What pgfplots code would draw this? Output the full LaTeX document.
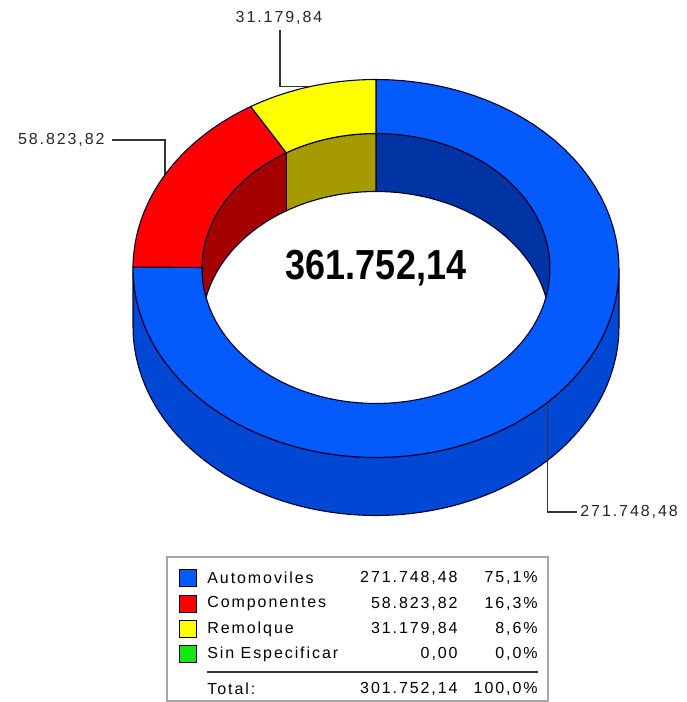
\documentclass[border=0pt]{standalone}
\usepackage{fontspec}
\setmainfont{Liberation Sans}
\newfontfamily\lblfont[LetterSpace=12]{Liberation Sans}
\usepackage{pgfplots}
\usepackage{pgfplotstable}
\pgfplotsset{compat=1.18}

\definecolor{topblue}{RGB}{5,90,252}
\definecolor{sideblue}{RGB}{0,72,212}
\definecolor{innerblue}{RGB}{0,52,165}
\definecolor{topred}{RGB}{255,0,0}
\definecolor{innerred}{RGB}{165,0,0}
\definecolor{topyellow}{RGB}{255,255,0}
\definecolor{inneryellow}{RGB}{165,155,0}
\definecolor{topgreen}{RGB}{20,230,20}
\definecolor{edge}{RGB}{0,0,45}

\pgfplotstableread{
name value
Automoviles 271748.48
Componentes 58823.82
Remolque 31179.84
SinEspecificar 0.00
}\donutdata

\pgfplotstablegetelem{0}{value}\of\donutdata \let\vA\pgfplotsretval
\pgfplotstablegetelem{1}{value}\of\donutdata \let\vC\pgfplotsretval
\pgfplotstablegetelem{2}{value}\of\donutdata \let\vR\pgfplotsretval
\pgfplotstablegetelem{3}{value}\of\donutdata \let\vS\pgfplotsretval

% geometry (pixel units)
\def\cx{376}
\def\cy{433.5}
\def\Rx{243}
\def\Ry{189}
\def\rx{174}
\def\ry{135}
\def\dd{58}

\edef\vT{\fpeval{\vA+\vC+\vR+\vS}}
\edef\aB{\fpeval{round(90-360*\vA/\vT,4)}}
\edef\aC{\fpeval{round(\aB-360*\vC/\vT,4)}}
\edef\aY{\fpeval{round(\aC-360*\vR/\vT,4)}}
\edef\aBp{\fpeval{\aB+360}}
\edef\aCp{\fpeval{\aC+360}}
\edef\aYp{\fpeval{\aY+360}}
\edef\mB{\fpeval{(90+\aB)/2}}
\edef\mC{\fpeval{(\aB+\aC)/2}}
\edef\mY{\fpeval{(\aC+\aY)/2}}
\edef\bX{\fpeval{round(\cx+\Rx*cosd(\mB),3)}}
\edef\bY{\fpeval{round(\cy+\Ry*sind(\mB),3)}}
\edef\cX{\fpeval{round(\cx+\Rx*cosd(\mC),3)}}
\edef\cY{\fpeval{round(\cy+\Ry*sind(\mC),3)}}
\edef\yX{\fpeval{round(\cx+\Rx*cosd(\mY),3)}}
\edef\yY{\fpeval{round(\cy+\Ry*sind(\mY),3)}}

% closed patch: arc 1 (#4,#5,offset #6) from #2 to #3 (t=0..80), then arc 2 (#7,#8,offset #9) back from #3 to #2 (t=100..180)
\newcommand{\patch}[9]{%
\addplot[#1, samples at={0,1,...,80,100,101,...,180}, variable=\t]
 ({\cx + ifthenelse(\t<90,#4,#7)*cos(ifthenelse(\t<90,#2+(#3-(#2))*\t/80,#3-(#3-(#2))*(\t-100)/80))},
  {\cy + ifthenelse(\t<90,#6,#9) + ifthenelse(\t<90,#5,#8)*sin(ifthenelse(\t<90,#2+(#3-(#2))*\t/80,#3-(#3-(#2))*(\t-100)/80))}) -- cycle;
}
\newcommand{\lf}{\lblfont\fontsize{8}{9}\selectfont}
\newcommand{\legrow}[5]{%
  \node[draw=black, fill=#2, minimum size=8.5pt, inner sep=0, line width=0.6pt] at (axis cs:188,#1) {};
  \node[anchor=west, inner sep=0, font=\lf] at (axis cs:207,#1) {#3};
  \node[anchor=east, inner sep=0, font=\lf] at (axis cs:458,#1) {#4};
  \node[anchor=east, inner sep=0, font=\lf] at (axis cs:538,#1) {#5};
}

\begin{document}
\begin{tikzpicture}
\begin{axis}[
  x=0.5pt, y=0.5pt,
  xmin=0, xmax=686, ymin=0, ymax=702,
  hide axis, clip=false, scale only axis, no markers,
]
\addplot[draw=none] coordinates {(0,0) (686,702)};

% outer side wall (front half)
\patch{fill=sideblue,draw=edge,line width=0.55pt}{-180}{0}{\Rx}{\Ry}{0}{\Rx}{\Ry}{-\dd}
% inner walls (back half)
\patch{fill=innerblue,draw=edge,line width=0.55pt}{0}{90}{\rx}{\ry}{0}{\rx}{\ry}{-\dd}
\patch{fill=inneryellow,draw=edge,line width=0.55pt}{\aYp}{\aCp}{\rx}{\ry}{0}{\rx}{\ry}{-\dd}
\patch{fill=innerred,draw=edge,line width=0.55pt}{\aCp}{\aBp}{\rx}{\ry}{0}{\rx}{\ry}{-\dd}
\patch{fill=innerblue,draw=edge,line width=0.55pt}{\aBp}{180}{\rx}{\ry}{0}{\rx}{\ry}{-\dd}

% leader lines
\draw[black!80, line width=0.6pt] (axis cs:\bX,\bY) |- (axis cs:577,190);
\draw[black!80, line width=0.6pt] (axis cs:\cX,\cY) |- (axis cs:112,562);
\draw[black!80, line width=0.6pt] (axis cs:\yX,\yY) -| (axis cs:280,672);

% top surface
\patch{fill=topblue,draw=edge,line width=0.55pt}{\aB}{90}{\Rx}{\Ry}{0}{\rx}{\ry}{0}
\patch{fill=topred,draw=edge,line width=0.55pt}{\aC}{\aB}{\Rx}{\Ry}{0}{\rx}{\ry}{0}
\patch{fill=topyellow,draw=edge,line width=0.55pt}{\aY}{\aC}{\Rx}{\Ry}{0}{\rx}{\ry}{0}

% labels
\node[anchor=west, inner sep=0, font=\lf, text=black!85] at (axis cs:580,190) {271.748,48};
\node[anchor=east, inner sep=0, font=\lf, text=black!85] at (axis cs:105,562) {58.823,82};
\node[anchor=center, inner sep=0, font=\lf, text=black!85] at (axis cs:279,684) {31.179,84};

\node[inner sep=0, font=\bfseries\fontsize{20}{24}\selectfont] at (axis cs:376,434) {\scalebox{0.9}[1.05]{361.752,14}};

% legend
\draw[gray!70, line width=1pt, fill=white] (axis cs:167,1) rectangle (axis cs:548,145);
\legrow{124}{topblue}{Automoviles}{271.748,48}{75,1\%}
\legrow{98}{topred}{Componentes}{58.823,82}{16,3\%}
\legrow{73}{topyellow}{Remolque}{31.179,84}{8,6\%}
\legrow{48}{topgreen}{Sin Especificar}{0,00}{0,0\%}
\draw[black!80, line width=1pt] (axis cs:207,30) -- (axis cs:538,30);
\node[anchor=west, inner sep=0, font=\lf] at (axis cs:207,13) {Total:};
\node[anchor=east, inner sep=0, font=\lf] at (axis cs:458,13) {301.752,14};
\node[anchor=east, inner sep=0, font=\lf] at (axis cs:538,13) {100,0\%};
\end{axis}
\end{tikzpicture}
\end{document}
